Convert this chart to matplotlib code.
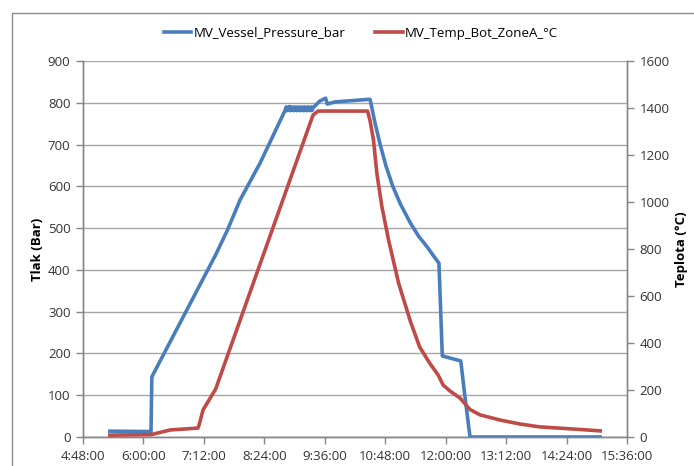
import matplotlib
matplotlib.use("Agg")
import matplotlib.pyplot as plt
from matplotlib.patches import Rectangle
from matplotlib.lines import Line2D
from matplotlib.ticker import FixedLocator, FuncFormatter

# ---- data ----
press_times = ["5:20", "6:08", "6:09", "6:10", "7:26", "7:40", "7:55", "8:19", "8:49",
               "8:50", "8:51", "8:52", "8:53", "8:54", "8:55", "8:56", "8:57", "8:58",
               "8:59", "9:00", "9:01", "9:02", "9:03", "9:04", "9:05", "9:06", "9:07",
               "9:08", "9:09", "9:10", "9:11", "9:12", "9:13", "9:14", "9:15", "9:16",
               "9:17", "9:18", "9:19", "9:20", "9:21", "9:22", "9:30", "9:37",
               "9:39", "9:48", "10:27", "10:30", "10:36", "10:42", "10:49", "10:57",
               "11:06", "11:18", "11:28", "11:38", "11:45",
               "11:52", "11:56", "12:18", "12:23", "12:29", "15:04"]
press_vals = [14, 13, 13, 144, 436, 495, 567, 656, 783,
              790, 781, 789, 782, 791, 781, 790, 782, 789,
              781, 790, 782, 789, 781, 790, 782, 789, 781,
              790, 782, 789, 781, 790, 782, 789, 781, 790,
              782, 789, 781, 790, 782, 788, 804, 811,
              797, 802, 808, 808, 750, 700, 648, 600,
              558, 512, 480, 455, 435,
              416, 194, 182, 96, 0, 0]

temp_times = ["5:20", "6:09", "6:32", "7:05", "7:07", "7:11", "7:26",
              "9:22", "9:28", "10:27", "10:30", "10:34", "10:38", "10:44", "10:52",
              "11:04", "11:18", "11:29", "11:41", "11:51", "11:57", "12:05", "12:17",
              "12:29", "12:41", "13:05", "13:29", "13:52", "14:32", "15:04"]
temp_vals = [8, 10, 30, 38, 60, 115, 204,
             1370, 1387, 1387, 1345, 1264, 1123, 981, 838,
             654, 492, 383, 314, 264, 221, 196, 166,
             117, 94, 72, 55, 43, 34, 26]

x_ticks = ["4:48", "6:00", "7:12", "8:24", "9:36", "10:48", "12:00", "13:12", "14:24", "15:36"]
left_ticks = [0, 100, 200, 300, 400, 500, 600, 700, 800, 900]
right_ticks = [0, 200, 400, 600, 800, 1000, 1200, 1400, 1600]


def to_hours(s):
    h, m = s.split(":")
    return int(h) + int(m) / 60.0


def fmt_time(v, pos=None):
    total = int(round(v * 60))
    return f"{total // 60}:{total % 60:02d}:00"


FONT = "Open Sans"
plt.rcParams["font.family"] = [FONT, "DejaVu Sans"]

fig = plt.figure(figsize=(6.94, 4.66), dpi=100)
W, H = 694, 466
ax = fig.add_axes([83 / W, 1 - 437 / H, (627 - 83) / W, (437 - 61) / H])
ax2 = ax.twinx()

blue = "#4a7ebb"
red = "#be4b48"
grid_c = "#a6a6a6"
spine_c = "#868686"

px = [to_hours(t) for t in press_times]
tx = [to_hours(t) for t in temp_times]

ax.plot(px, press_vals, color=blue, lw=2.6, solid_joinstyle="round", zorder=3)
ax2.plot(tx, temp_vals, color=red, lw=2.6, solid_joinstyle="round", zorder=3)

xt = [to_hours(t) for t in x_ticks]
ax.set_xlim(xt[0], xt[-1])
ax.xaxis.set_major_locator(FixedLocator(xt))
ax.xaxis.set_major_formatter(FuncFormatter(fmt_time))

ax.set_ylim(0, 900)
ax.set_yticks(left_ticks)
ax2.set_ylim(0, 1600)
ax2.set_yticks(right_ticks)

ax.yaxis.grid(True, color=grid_c, lw=1.0)
ax.set_axisbelow(True)

for a in (ax, ax2):
    a.spines["top"].set_visible(False)
    for s in ("left", "right", "bottom"):
        a.spines[s].set_color(spine_c)
        a.spines[s].set_linewidth(1.0)
    a.tick_params(colors="#333333", labelsize=9.5, length=5, width=1.0, direction="out")
    a.tick_params(axis="both", color=spine_c)

ax.tick_params(axis="x", pad=4)
ax.tick_params(axis="y", pad=4)
ax2.tick_params(axis="y", pad=4)

ax.set_ylabel("Tlak (Bar)", fontsize=9.5, fontweight="bold", labelpad=3)
ax2.set_ylabel("Teplota (°C)", fontsize=9.5, fontweight="bold", labelpad=4, rotation=90)

handles = [Line2D([], [], color=blue, lw=2.6), Line2D([], [], color=red, lw=2.6)]
fig.legend(handles, ["MV_Vessel_Pressure_bar", "MV_Temp_Bot_ZoneA_°C"],
           loc="center", bbox_to_anchor=(361 / W, 1 - 33 / H), ncol=2, frameon=False,
           fontsize=9.5, handlelength=2.1, handletextpad=0.2, columnspacing=2.2)

fig.patches.append(Rectangle((12 / W, -0.05), 1.2, 1 - 13 / H + 0.05, transform=fig.transFigure,
                             fill=False, edgecolor="#8c8c8c", lw=1.0))

fig.savefig("out.png", dpi=100)
